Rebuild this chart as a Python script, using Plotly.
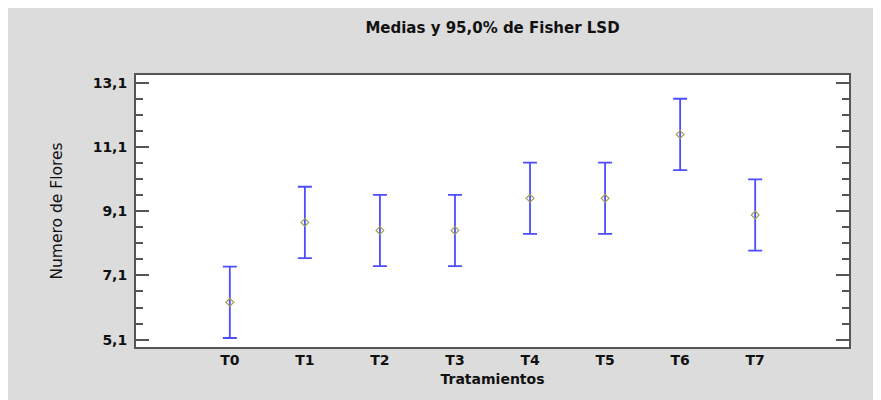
import plotly.graph_objects as go

categories = ["T0", "T1", "T2", "T3", "T4", "T5", "T6", "T7"]
means = [6.26, 8.75, 8.50, 8.50, 9.50, 9.50, 11.49, 8.98]
lsd_half = [1.11, 1.11, 1.11, 1.11, 1.11, 1.11, 1.11, 1.11]
ytick_vals = [5.1, 7.1, 9.1, 11.1, 13.1]
ytick_text = ["5,1", "7,1", "9,1", "11,1", "13,1"]

# page body has an 8px margin, so the figure starts at (8, 8)
W, H = 873, 392
ml, mr, mt, mb = 128, 32, 67, 53

fig = go.Figure()
fig.add_trace(go.Scatter(
    x=list(range(len(categories))), y=means, mode="markers",
    marker=dict(symbol="diamond-open", size=6, color="#a0a050", line=dict(width=1.2)),
    error_y=dict(type="data", array=lsd_half, color="#4d4dff", thickness=1.8, width=7),
    showlegend=False, hoverinfo="skip"))

font = "DejaVu Sans, sans-serif"
fig.update_layout(
    width=W, height=H,
    margin=dict(l=ml, r=mr, t=mt, b=mb),
    paper_bgcolor="#dcdcdc", plot_bgcolor="white",
    title=dict(text="<b>Medias y 95,0% de Fisher LSD</b>", x=0.5, xref="paper", xanchor="center",
               y=1 - 20 / H, yanchor="middle", font=dict(family=font, size=15, color="#111")),
    xaxis=dict(range=[-1.25, 8.25], tickvals=list(range(len(categories))),
               ticktext=["<b>%s</b>" % c for c in categories],
               showgrid=False, zeroline=False, showline=True, linecolor="#555", linewidth=2,
               mirror=True, ticks="", ticklabelstandoff=-1,
               tickfont=dict(family=font, size=14, color="#111"),
               title=dict(text="<b>Tratamientos</b>", standoff=7,
                          font=dict(family=font, size=14, color="#111"))),
    yaxis=dict(range=[4.87, 13.34], tickvals=ytick_vals,
               ticktext=["<b>%s</b>" % t for t in ytick_text],
               showgrid=False, zeroline=False, showline=True, linecolor="#555", linewidth=2,
               mirror="allticks", ticks="inside", ticklen=13, tickwidth=1.5, tickcolor="#555",
               ticklabelstandoff=4,
               minor=dict(tickvals=[5.1 + 0.5 * i for i in range(17)], ticks="inside",
                          ticklen=7, tickwidth=1.5, tickcolor="#555"),
               tickfont=dict(family=font, size=14, color="#111"),
               title=dict(text="Numero de Flores", standoff=26,
                          font=dict(family=font, size=15.5, color="#111"))),
)
fig.write_html("out.html")
